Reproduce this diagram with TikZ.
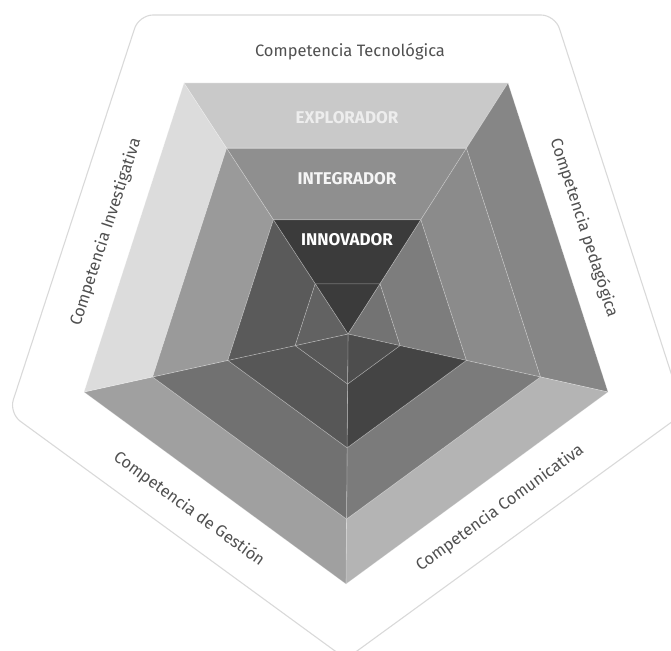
\documentclass[tikz,border=0pt]{standalone}
\usepackage{fontspec}
\setmainfont{Fira Sans}
\usepackage{xcolor}
\usepackage{tikz}
\usetikzlibrary{calc}
\definecolor{framegray}{HTML}{D9D9D9}
\definecolor{labelgray}{HTML}{505050}
\definecolor{expTop}{HTML}{C9C9C9}
\definecolor{expLeft}{HTML}{DCDCDC}
\definecolor{expRight}{HTML}{868686}
\definecolor{expBR}{HTML}{B4B4B4}
\definecolor{expBL}{HTML}{A0A0A0}
\definecolor{intTop}{HTML}{8F8F8F}
\definecolor{intLeft}{HTML}{9A9A9A}
\definecolor{intRight}{HTML}{8B8B8B}
\definecolor{intBR}{HTML}{7B7B7B}
\definecolor{intBL}{HTML}{717171}
\definecolor{innTop}{HTML}{3B3B3B}
\definecolor{innLeft}{HTML}{5A5A5A}
\definecolor{innRight}{HTML}{7D7D7D}
\definecolor{innBR}{HTML}{444444}
\definecolor{innBL}{HTML}{575757}

\begin{document}
\begin{tikzpicture}[x=1pt, y=-1pt,
    face/.style={draw=white, draw opacity=0.3, line width=0.6pt, line join=round},
    comp/.style={font=\fontsize{16.5}{17}\selectfont, text=labelgray},
    level/.style={font=\bfseries\fontsize{17}{17}\selectfont, text=white}]
  \useasboundingbox (0,0) rectangle (671,650);
  % Frame
  \draw[framegray, line width=1.1pt, rounded corners=14pt]
    (139,15) -- (555,15) -- (684,413) -- (346,659) -- (9,413) -- cycle;
  % Pyramid corners and apex
  \coordinate (A0) at (184,83);
  \coordinate (B0) at (508,83);
  \coordinate (C0) at (608,392);
  \coordinate (D0) at (346,584);
  \coordinate (E0) at (84,392);
  \coordinate (O) at (348,334);
  \foreach \v in {A,B,C,D,E} {
    \coordinate (\v1) at ($(\v0)!0.26!(O)$);
    \coordinate (\v2) at ($(\v0)!0.545!(O)$);
    \coordinate (\v3) at ($(\v0)!0.8!(O)$);
  }
  % Top face
  \fill[face, fill=expTop] (A0) -- (B0) -- (B1) -- (A1) -- cycle;
  \fill[face, fill=intTop] (A1) -- (B1) -- (B2) -- (A2) -- cycle;
  \fill[face, fill=innTop] (A2) -- (B2) -- (B3) -- (A3) -- cycle;
  \fill[face, fill=innTop] (A3) -- (B3) -- (O) -- cycle;
  % Right face
  \fill[face, fill=expRight] (B0) -- (C0) -- (C1) -- (B1) -- cycle;
  \fill[face, fill=intRight] (B1) -- (C1) -- (C2) -- (B2) -- cycle;
  \fill[face, fill=innRight] (B2) -- (C2) -- (C3) -- (B3) -- cycle;
  \fill[face, fill=innRight!92!black] (B3) -- (C3) -- (O) -- cycle;
  % Bottom right face
  \fill[face, fill=expBR] (C0) -- (D0) -- (D1) -- (C1) -- cycle;
  \fill[face, fill=intBR] (C1) -- (D1) -- (D2) -- (C2) -- cycle;
  \fill[face, fill=innBR] (C2) -- (D2) -- (D3) -- (C3) -- cycle;
  \fill[face, fill=innBR!95!white] (C3) -- (D3) -- (O) -- cycle;
  % Bottom left face
  \fill[face, fill=expBL] (D0) -- (E0) -- (E1) -- (D1) -- cycle;
  \fill[face, fill=intBL] (D1) -- (E1) -- (E2) -- (D2) -- cycle;
  \fill[face, fill=innBL] (D2) -- (E2) -- (E3) -- (D3) -- cycle;
  \fill[face, fill=innBL] (D3) -- (E3) -- (O) -- cycle;
  % Left face
  \fill[face, fill=expLeft] (E0) -- (A0) -- (A1) -- (E1) -- cycle;
  \fill[face, fill=intLeft] (E1) -- (A1) -- (A2) -- (E2) -- cycle;
  \fill[face, fill=innLeft] (E2) -- (A2) -- (A3) -- (E3) -- cycle;
  \fill[face, fill=innLeft!95!white] (E3) -- (A3) -- (O) -- cycle;
  % Levels
  \node[level, text=white!93!black] (exp) at (347,118) {EXPLORADOR};
  \node[level, text=white!96!black] (int) at (347,179) {INTEGRADOR};
  \node[level] (inn) at (347,240) {INNOVADOR};
  % Competences
  \node[comp] (tec) at (350,52) {Competencia Tecnológica};
  \node[comp, rotate=-72] (ped) at (584,228) {Competencia pedagógica};
  \node[comp, rotate=36] (com) at (500,508) {Competencia Comunicativa};
  \node[comp, rotate=-36] (ges) at (189,509) {Competencia de Gestión};
  \node[comp, rotate=72] (inv) at (106,232) {Competencia Investigativa};
\end{tikzpicture}
\end{document}
